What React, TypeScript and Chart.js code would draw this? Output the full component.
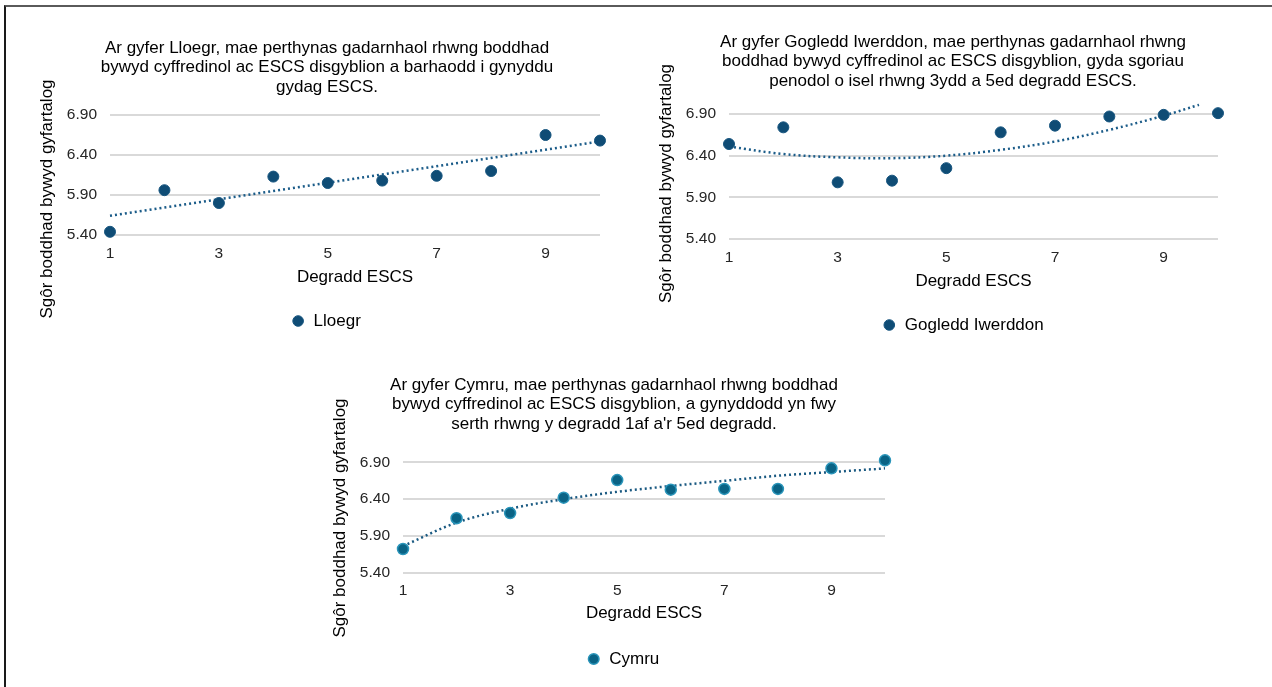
import React, { useEffect, useRef } from "react";
import { Chart, registerables } from "chart.js";

Chart.register(...registerables);

// ---------- data ----------
const deciles = [1, 2, 3, 4, 5, 6, 7, 8, 9, 10];
const xTickValues = [1, 3, 5, 7, 9];
const yTickValues = [5.4, 5.9, 6.4, 6.9];

const yAxisTitle = "Sgôr boddhad bywyd gyfartalog";
const xAxisTitle = "Degradd ESCS";

const englandLabel = "Lloegr";
const englandTitle = [
  "Ar gyfer Lloegr, mae perthynas gadarnhaol rhwng boddhad",
  "bywyd cyffredinol ac ESCS disgyblion a barhaodd i gynyddu",
  "gydag ESCS.",
];
const englandScores = [5.44, 5.96, 5.8, 6.13, 6.05, 6.08, 6.14, 6.2, 6.65, 6.58];
const englandTrendX = [1, 10];
const englandTrend = [5.64, 6.57];

const niLabel = "Gogledd Iwerddon";
const niTitle = [
  "Ar gyfer Gogledd Iwerddon, mae perthynas gadarnhaol rhwng",
  "boddhad bywyd cyffredinol ac ESCS disgyblion, gyda sgoriau",
  "penodol o isel rhwng 3ydd a 5ed degradd ESCS.",
];
const niScores = [6.54, 6.74, 6.08, 6.1, 6.25, 6.68, 6.76, 6.87, 6.89, 6.91];
const niTrendX = [1, 2, 3, 4, 5, 6, 7, 8, 9, 9.65];
const niTrend = [6.51, 6.42, 6.38, 6.37, 6.4, 6.47, 6.57, 6.71, 6.88, 7.01];

const walesLabel = "Cymru";
const walesTitle = [
  "Ar gyfer Cymru, mae perthynas gadarnhaol rhwng boddhad",
  "bywyd cyffredinol ac ESCS disgyblion, a gynyddodd yn fwy",
  "serth rhwng y degradd 1af a'r 5ed degradd.",
];
const walesScores = [5.72, 6.14, 6.21, 6.42, 6.66, 6.53, 6.54, 6.54, 6.82, 6.93];
const walesTrendX = [1, 2, 3, 4, 5, 6, 7, 8, 9, 10];
const walesTrend = [5.76, 6.08, 6.27, 6.4, 6.5, 6.58, 6.65, 6.72, 6.77, 6.82];

// ---------- styling / layout ----------
const FONT = '"Liberation Sans", Arial, Helvetica, sans-serif';

type Spec = {
  key: string;
  label: string;
  title: string[];
  scores: number[];
  trendX: number[];
  trend: number[];
  trendTension: number;
  monotone: boolean;
  dotFill: string;
  dotBorder: string;
  dotBorderWidth: number;
  trendColor: string;
  left: number;
  top: number;
  width: number;
  height: number;
  titlePadTop: number;
  titlePadBottom: number;
  rightGap: number;
  xAxisHeight: number;
  legendPad: number;
  legendShift: number;
  yTitleCenter: number;
};

const specs: Spec[] = [
  {
    key: "eng",
    label: englandLabel,
    title: englandTitle,
    scores: englandScores,
    trendX: englandTrendX,
    trend: englandTrend,
    trendTension: 0,
    monotone: false,
    dotFill: "#0f4c75",
    dotBorder: "#17557f",
    dotBorderWidth: 1,
    trendColor: "#1b5c89",
    left: 34,
    top: 28,
    width: 586,
    height: 312,
    titlePadTop: 10.2,
    titlePadBottom: 6.15,
    rightGap: 20,
    xAxisHeight: 55.8,
    legendPad: 21.7,
    legendShift: -1,
    yTitleCenter: 171,
  },
  {
    key: "ni",
    label: niLabel,
    title: niTitle,
    scores: niScores,
    trendX: niTrendX,
    trend: niTrend,
    trendTension: 0.4,
    monotone: false,
    dotFill: "#0f4c75",
    dotBorder: "#17557f",
    dotBorderWidth: 1,
    trendColor: "#1b5c89",
    left: 653,
    top: 22,
    width: 600,
    height: 322,
    titlePadTop: 10.2,
    titlePadBottom: 10.65,
    rightGap: 35,
    xAxisHeight: 55.8,
    legendPad: 21.7,
    legendShift: 10,
    yTitleCenter: 161.5,
  },
  {
    key: "wal",
    label: walesLabel,
    title: walesTitle,
    scores: walesScores,
    trendX: walesTrendX,
    trend: walesTrend,
    trendTension: 0,
    monotone: true,
    dotFill: "#0a6385",
    dotBorder: "#2a95ba",
    dotBorderWidth: 1.5,
    trendColor: "#1b5a82",
    left: 327,
    top: 365,
    width: 574,
    height: 313,
    titlePadTop: 10.2,
    titlePadBottom: 17.65,
    rightGap: 16,
    xAxisHeight: 54.3,
    legendPad: 23.7,
    legendShift: 9,
    yTitleCenter: 153,
  },
];

const Y_TITLE_SIZE = 17;
const Y_TITLE_LH = Y_TITLE_SIZE * 1.15;

function ScatterPanel({ spec }: { spec: Spec }) {
  const ref = useRef<HTMLCanvasElement | null>(null);

  useEffect(() => {
    if (!ref.current) return;
    const points = deciles.map((d, i) => ({ x: d, y: spec.scores[i] }));
    const trendPts = spec.trendX.map((d, i) => ({ x: d, y: spec.trend[i] }));

    const panelPlugin = {
      id: "panelTweaks",
      afterLayout(chart: any) {
        if (chart.legend) {
          chart.legend.left += spec.legendShift;
          chart.legend.right += spec.legendShift;
        }
      },
      afterDraw(chart: any) {
        const ctx = chart.ctx;
        const ys = chart.scales.y;
        ctx.save();
        ctx.translate(ys.left + 4 + Y_TITLE_LH / 2, spec.yTitleCenter);
        ctx.rotate(-Math.PI / 2);
        ctx.font = `${Y_TITLE_SIZE}px ${FONT}`;
        ctx.fillStyle = "#000";
        ctx.textAlign = "center";
        ctx.textBaseline = "middle";
        ctx.fillText(yAxisTitle, 0, 0);
        ctx.restore();
      },
    };

    const chart = new Chart(ref.current, {
      type: "scatter",
      data: {
        datasets: [
          {
            label: spec.label,
            data: points,
            backgroundColor: spec.dotFill,
            borderColor: spec.dotBorder,
            borderWidth: spec.dotBorderWidth,
            pointRadius: 5.5,
            clip: false,
            order: 0,
          },
          {
            type: "line",
            label: "trend",
            data: trendPts,
            showLine: true,
            fill: false,
            borderColor: spec.trendColor,
            borderWidth: 2.5,
            borderDash: [2, 3],
            borderCapStyle: "butt",
            pointRadius: 0,
            tension: spec.trendTension,
            cubicInterpolationMode: spec.monotone ? "monotone" : "default",
            clip: false,
            order: 1,
          } as any,
        ],
      },
      options: {
        animation: false,
        responsive: false,
        devicePixelRatio: 1,
        events: [],
        layout: { padding: { left: 0, right: 0, top: 0, bottom: 0.5 } },
        plugins: {
          tooltip: { enabled: false },
          title: {
            display: true,
            text: spec.title,
            color: "#000",
            font: { family: FONT, size: 17, weight: "normal", lineHeight: 1.15 },
            padding: { top: spec.titlePadTop, bottom: spec.titlePadBottom },
          },
          legend: {
            display: true,
            position: "bottom",
            labels: {
              usePointStyle: true,
              pointStyle: "circle",
              boxHeight: 7.5,
              boxWidth: 14,
              padding: spec.legendPad,
              color: "#000",
              font: { family: FONT, size: 17 },
              filter: (item: any) => item.datasetIndex === 0,
            },
          },
        },
        scales: {
          x: {
            type: "linear",
            min: 1,
            max: 10,
            afterBuildTicks: (s: any) => {
              s.ticks = xTickValues.map((v) => ({ value: v }));
            },
            afterFit: (s: any) => {
              s.height = spec.xAxisHeight;
            },
            grid: { display: false, drawTicks: false },
            border: { display: false },
            ticks: {
              padding: 9,
              color: "#262626",
              font: { family: FONT, size: 15.5 },
              maxRotation: 0,
              callback: (v: any) => String(v),
            },
            title: {
              display: true,
              text: xAxisTitle,
              color: "#000",
              font: { family: FONT, size: 17, lineHeight: 1.15 },
              padding: { top: 0, bottom: 4 },
            },
          },
          y: {
            type: "linear",
            min: 5.4,
            max: 7.05,
            afterBuildTicks: (s: any) => {
              s.ticks = yTickValues.map((v) => ({ value: v }));
            },
            afterFit: (s: any) => {
              s.width = 76;
            },
            grid: { color: "#d9d9d9", lineWidth: 2, drawTicks: false },
            border: { display: false },
            ticks: {
              padding: 13,
              color: "#262626",
              font: { family: FONT, size: 15.5 },
              callback: (v: any) => Number(v).toFixed(2),
            },
            title: { display: false },
          },
          yRight: {
            type: "linear",
            position: "right",
            display: true,
            grid: { display: false, drawTicks: false },
            border: { display: false },
            ticks: { display: false },
            afterFit: (s: any) => {
              s.width = spec.rightGap;
            },
          },
        },
      } as any,
      plugins: [panelPlugin],
    });
    return () => chart.destroy();
  }, [spec]);

  return (
    <div style={{ position: "absolute", left: spec.left, top: spec.top, width: spec.width, height: spec.height }}>
      <canvas
        ref={ref}
        width={spec.width}
        height={spec.height}
        style={{ width: spec.width, height: spec.height, display: "block" }}
      />
    </div>
  );
}

export default function App() {
  return (
    <div
      style={{
        position: "absolute",
        left: 0,
        top: 0,
        width: 1272,
        height: 687,
        background: "#fff",
        overflow: "hidden",
        fontFamily: FONT,
      }}
    >
      <div
        style={{
          position: "absolute",
          left: 4,
          top: 5,
          right: 0,
          bottom: 0,
          borderLeft: "2px solid #1a1a1a",
          borderTop: "2px solid #5a5a5a",
        }}
      />
      {specs.map((s) => (
        <ScatterPanel key={s.key} spec={s} />
      ))}
    </div>
  );
}
